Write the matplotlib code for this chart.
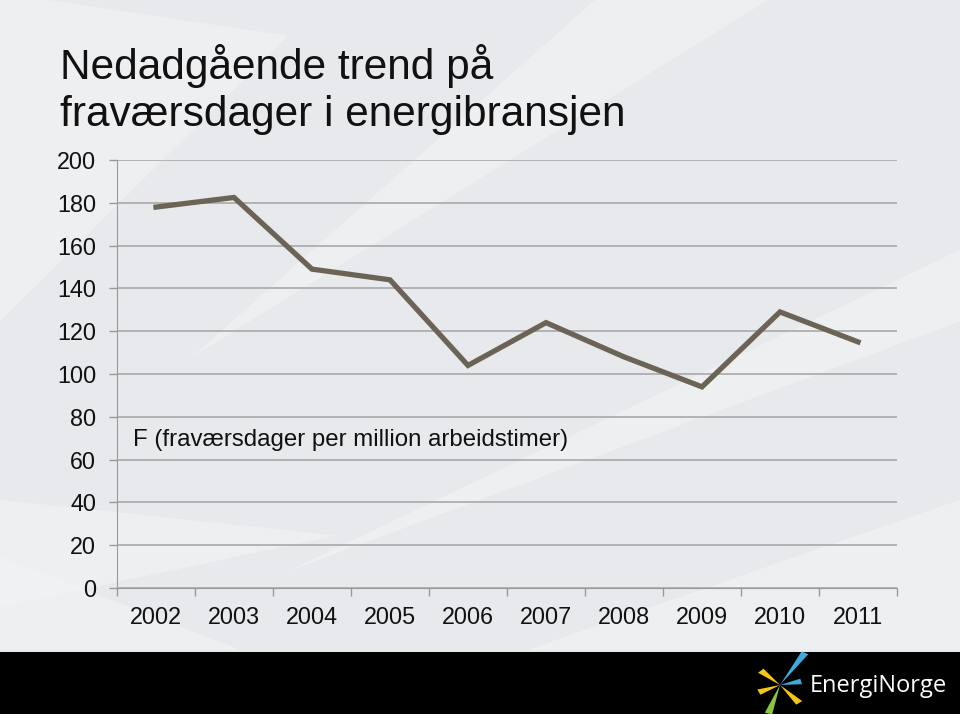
import matplotlib
matplotlib.use("Agg")
import matplotlib.pyplot as plt
from matplotlib.patches import Polygon, Rectangle
import numpy as np

years = ["2002", "2003", "2004", "2005", "2006", "2007", "2008", "2009", "2010", "2011"]
values = [178, 182.5, 149, 144, 104, 124, 108, 94, 129, 115]
y_ticks = [0, 20, 40, 60, 80, 100, 120, 140, 160, 180, 200]

title = "Nedadgående trend på\nfraværsdager i energibransjen"
series_label = "F (fraværsdager per million arbeidstimer)"

plt.rcParams['font.family'] = ['Liberation Sans', 'DejaVu Sans']

fig = plt.figure(figsize=(9.6, 7.14), dpi=100)
fig.patch.set_facecolor('#e7e9ec')

# background decorative light shapes (figure coords)
bg = fig.add_axes([0, 0, 1, 1], zorder=-10)
bg.set_xlim(0, 1)
bg.set_ylim(0, 1)
bg.axis('off')
shapes = [
    [(0.00, 0.55), (0.30, 0.95), (0.05, 1.0), (0.0, 1.0)],
    [(0.20, 0.50), (0.62, 1.0), (0.80, 1.0)],
    [(0.30, 0.20), (1.0, 0.55), (1.0, 0.65)],
    [(0.0, 0.30), (0.35, 0.25), (0.0, 0.15)],
    [(0.55, 0.09), (1.0, 0.30), (1.0, 0.09)],
    [(0.0, 0.09), (0.25, 0.09), (0.0, 0.22)],
]
for s in shapes:
    bg.add_patch(Polygon(s, closed=True, facecolor='#f3f4f5', edgecolor='none', alpha=0.6))

# footer band
bg.add_patch(Rectangle((0, 0), 1, 62/714, facecolor='black', edgecolor='none', zorder=2))
# logo rays
cx, cy = 780/960, 1 - 685/714
rays = [
    ((0.026, 0.045), '#3fa9dc'),
    ((-0.020, 0.020), '#f5c518'),
    ((-0.022, -0.010), '#f5c518'),
    ((-0.012, -0.040), '#8cc63f'),
    ((0.020, -0.025), '#f5c518'),
    ((0.022, 0.005), '#3fa9dc'),
]
for (dx, dy), c in rays:
    ang = np.arctan2(dy, dx)
    w = 0.004
    px, py = -np.sin(ang) * w, np.cos(ang) * w
    pts = [(cx, cy), (cx + dx + px, cy + dy + py), (cx + dx - px, cy + dy - py)]
    bg.add_patch(Polygon(pts, closed=True, facecolor=c, edgecolor='none', zorder=3))
bg.text(810/960, 1 - 686/714, "EnergiNorge", color='white', fontsize=17,
        family=['Open Sans', 'DejaVu Sans'], va='center', ha='left', zorder=4)

ax = fig.add_axes([117/960, 1 - 588/714, 780/960, 428/714], zorder=5)
ax.set_facecolor('none')

x = np.arange(len(years))
ax.plot(x, values, color='#6b6456', linewidth=3.8, solid_joinstyle='miter', zorder=3)

ax.set_xlim(-0.5, len(years) - 0.5)
ax.set_ylim(0, 200)
ax.set_yticks(y_ticks)
ax.set_yticklabels([str(v) for v in y_ticks], fontsize=16.8, color='#111111')
ax.set_xticks(x)
ax.set_xticklabels(years, fontsize=16.8, color='#111111')
ax.set_xticks(np.arange(-0.5, len(years)), minor=True)
ax.tick_params(axis='x', which='major', length=0, pad=13)
ax.tick_params(axis='x', which='minor', length=6, color='#999999', width=1)
ax.tick_params(axis='y', length=6, color='#999999', width=1, pad=9)

ax.grid(axis='y', color='#a3a3a3', linewidth=1.1, zorder=1)
for sp in ['top', 'right']:
    ax.spines[sp].set_visible(False)
ax.spines['left'].set_color('#999999')
ax.spines['bottom'].set_color('#999999')

ax.text(133/960, 1 - 440/714, series_label, transform=fig.transFigure,
        fontsize=17.3, color='#111111', va='center', ha='left')

fig.text(60/960, 1 - 44/714, title, fontsize=30.5, color='#111111',
         va='top', ha='left', linespacing=1.22)

fig.savefig("out.png", dpi=100, facecolor=fig.get_facecolor())
